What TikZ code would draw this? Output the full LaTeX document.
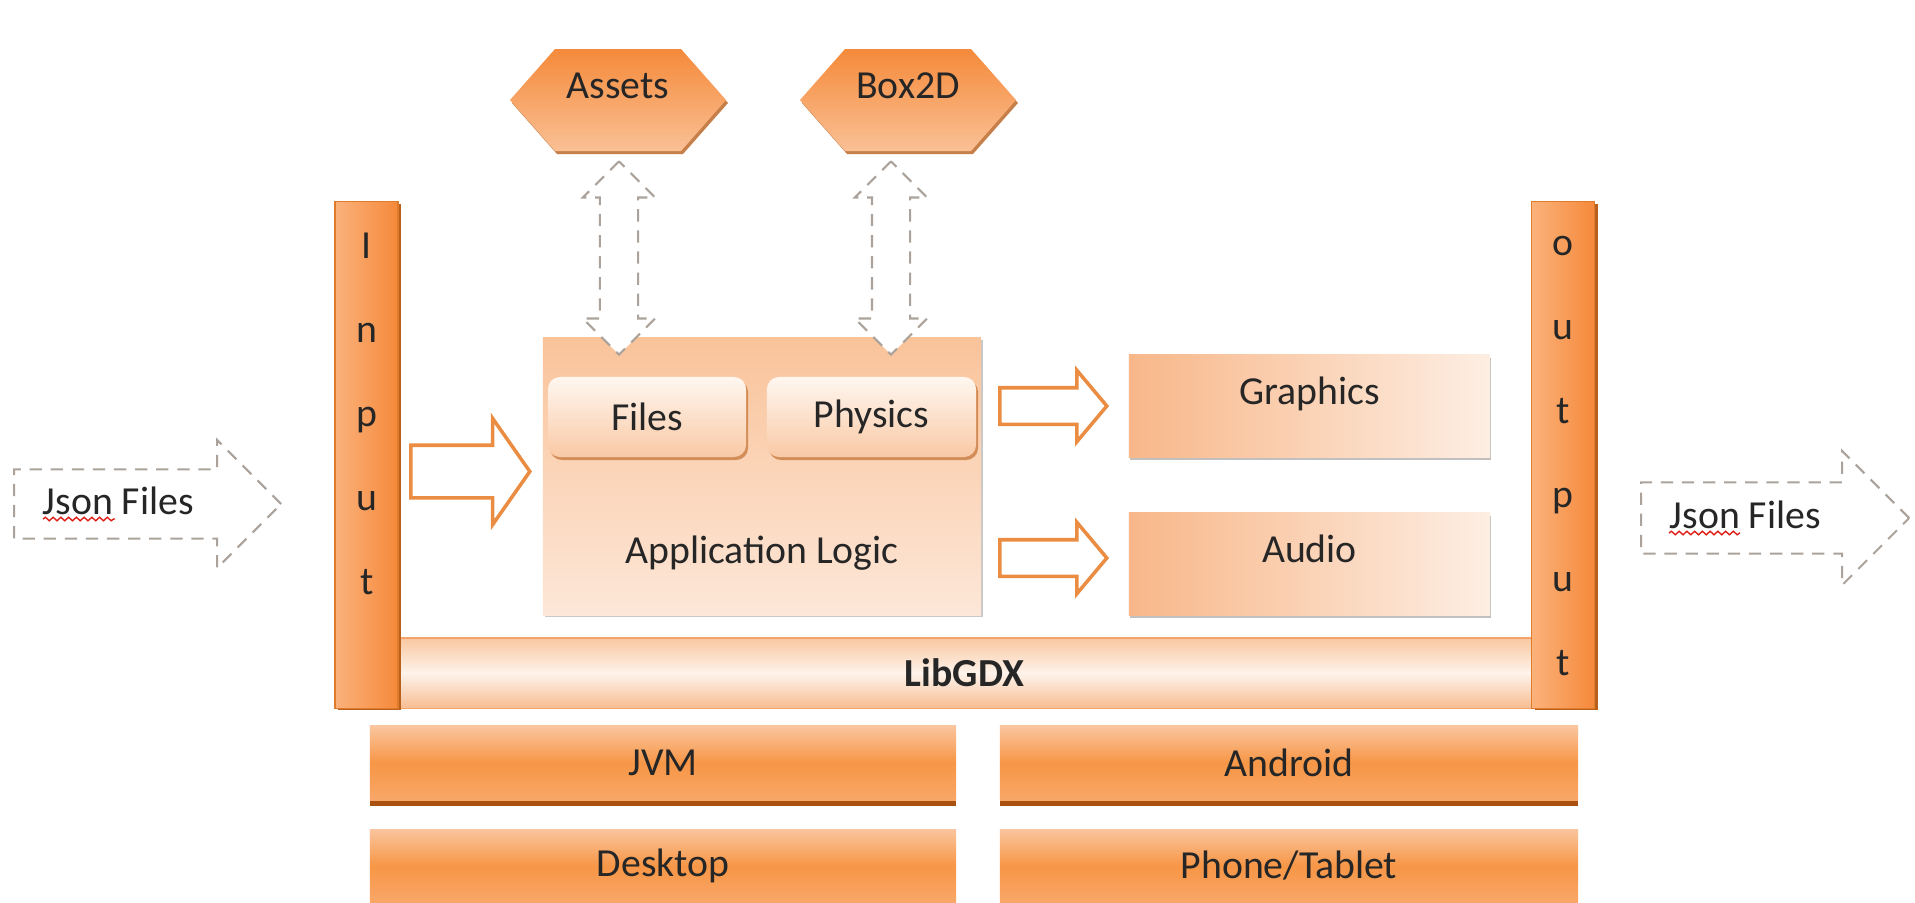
\documentclass[tikz,border=0pt]{standalone}
\usepackage{fontspec}
\setmainfont{Carlito}
\usetikzlibrary{shapes.arrows,shadows,decorations.pathmorphing}

\definecolor{hextop}{HTML}{F58A3A}
\definecolor{hexbottom}{HTML}{FAC095}
\definecolor{shadowbrown}{HTML}{B8601C}
\definecolor{barleft}{HTML}{FBB27C}
\definecolor{barright}{HTML}{F5893A}
\definecolor{baredge}{HTML}{E07B2C}
\definecolor{libtop}{HTML}{F9C7A0}
\definecolor{libmid}{HTML}{FEF3EB}
\definecolor{libbottom}{HTML}{F7BD92}
\definecolor{libedge}{HTML}{F3A46C}
\definecolor{apptop}{HTML}{F9C39A}
\definecolor{appbottom}{HTML}{FDE7D8}
\definecolor{filestop}{HTML}{FFF7F0}
\definecolor{filesbottom}{HTML}{F9C9A5}
\definecolor{outleft}{HTML}{F8B789}
\definecolor{outright}{HTML}{FDEEE3}
\definecolor{basetop}{HTML}{FAC59E}
\definecolor{basemid}{HTML}{F79646}
\definecolor{basebottom}{HTML}{F8A769}
\definecolor{baseshadow}{HTML}{A9520F}
\definecolor{arrowline}{HTML}{EA8C42}
\definecolor{dashgray}{HTML}{ABA39B}
\definecolor{spellred}{HTML}{E0201A}

\begin{document}
\begin{tikzpicture}[x=0.01cm, y=-0.01cm,
    every node/.style={font=\fontsize{11.3}{13.5}\selectfont, text=black!85, inner sep=0pt},
    raised/.style={text height=0.2cm, text depth=0.24cm},
    hexfill/.style={top color=hextop, bottom color=hexbottom,
        drop shadow={shadow xshift=0.02cm, shadow yshift=-0.03cm, fill=shadowbrown, opacity=0.8}},
    dasharrow/.style={double arrow, draw=dashgray, dash pattern=on 3.5pt off 2.5pt, line width=0.6pt,
        fill=white, double arrow head extend=0.17cm, double arrow tip angle=90, inner ysep=0.18cm,
        inner xsep=0, minimum height=1.93cm, rotate=90},
    sidebar/.style={rectangle, minimum width=0.63cm, minimum height=5.06cm, left color=barleft,
        right color=barright, draw=baredge, line width=0.3pt,
        drop shadow={shadow xshift=0.03cm, shadow yshift=-0.02cm, fill=shadowbrown, opacity=1}},
    libbar/.style={rectangle, minimum width=11.33cm, minimum height=0.70cm, top color=libtop,
        bottom color=libbottom, middle color=libmid, draw=libedge, line width=0.3pt},
    appbox/.style={rectangle, minimum width=4.38cm, minimum height=2.77cm, top color=apptop,
        bottom color=appbottom, drop shadow={shadow xshift=0.02cm, shadow yshift=-0.02cm, fill=gray!60, opacity=0.7}},
    innerbox/.style={rectangle, rounded corners=0.12cm, minimum height=0.80cm, top color=filestop,
        bottom color=filesbottom,
        drop shadow={shadow xshift=0.02cm, shadow yshift=-0.03cm, fill=shadowbrown, opacity=0.6}},
    outbox/.style={rectangle, minimum width=3.61cm, minimum height=1.02cm, left color=outleft,
        right color=outright, raised,
        drop shadow={shadow xshift=0.01cm, shadow yshift=-0.03cm, fill=gray!70, opacity=0.7}},
    basebox/.style={rectangle, minimum height=0.74cm, top color=basetop, bottom color=basebottom,
        middle color=basemid,
        drop shadow={shadow xshift=0cm, shadow yshift=-0.06cm, fill=baseshadow, opacity=1}},
    blockarrow/.style={single arrow, draw=arrowline, fill=white, line width=1pt, inner xsep=0,
        anchor=tail},
    jsonarrow/.style={single arrow, draw=dashgray, dash pattern=on 3.5pt off 2.5pt, line width=0.6pt,
        fill=white, single arrow tip angle=90, text height=0.3cm, text depth=0.1cm, anchor=tail}
]
    \clip (0,0) rectangle (1915,902);
    \fill[white] (0,0) rectangle (1915,902);

    % outside resources
    \coordinate (assetsc) at (618,100);
    \coordinate (box2dc) at (908,100);
    \shade[hexfill] (assetsc) ++(-108,0) -- ++(45,-51) -- ++(126,0) -- ++(45,51) -- ++(-45,51) -- ++(-126,0) -- cycle;
    \shade[hexfill] (box2dc) ++(-108,0) -- ++(45,-51) -- ++(126,0) -- ++(45,51) -- ++(-45,51) -- ++(-126,0) -- cycle;
    \node[raised] (assets) at (assetsc) {Assets};
    \node[raised] (box2d) at (box2dc) {Box2D};

    % LibGDX frame
    \node[libbar] (libgdx) at (964.5,673) {\textbf{LibGDX}};
    \node[sidebar] (input) at (366.5,455) {};
    \node[sidebar] (output) at (1563,455) {};
    \node[align=center, font=\fontsize{11.3}{23.9}\selectfont] (inletters) at (367,414) {I\\n\\p\\u\\t};
    \node[align=center, font=\fontsize{11.3}{23.9}\selectfont] (outletters) at (1563,456) {o\\u\\t\\p\\u\\t};

    % application
    \node[appbox, text height=1.8cm, text depth=0.07cm] (app) at (762,476.5) {Application Logic};
    \node[innerbox, minimum width=1.98cm] (files) at (647,417) {Files};
    \node[innerbox, minimum width=2.09cm] (physics) at (871.5,417) {Physics};
    \node[dasharrow] (assetslink) at (619,258) {};
    \node[dasharrow] (box2dlink) at (891,258) {};
    \node[outbox] (graphics) at (1309.5,406) {Graphics};
    \node[outbox] (audio) at (1309.5,564) {Audio};

    % block arrows
    \node[blockarrow, minimum height=1.19cm, inner ysep=0.245cm, single arrow head extend=0.27cm,
        single arrow tip angle=110] (in2app) at (409,471.5) {};
    \node[blockarrow, minimum height=1.07cm, inner ysep=0.165cm, single arrow head extend=0.175cm,
        single arrow tip angle=100] (app2graphics) at (998,406) {};
    \node[blockarrow, minimum height=1.07cm, inner ysep=0.165cm, single arrow head extend=0.175cm,
        single arrow tip angle=100] (app2audio) at (998,558) {};

    % json files
    \node[jsonarrow, minimum height=2.67cm, inner ysep=0.135cm, single arrow head extend=0.295cm] (jsonin) at (13,504) {Json Files\hspace*{0.24cm}};
    \node[jsonarrow, minimum height=2.68cm, inner ysep=0.145cm, single arrow head extend=0.315cm] (jsonout) at (1640,518) {Json Files\hspace*{0.24cm}};
    \draw[spellred, line width=0.4pt, decorate, decoration={snake, amplitude=0.5pt, segment length=2.2pt}] (43,519) -- (115,519);
    \draw[spellred, line width=0.4pt, decorate, decoration={snake, amplitude=0.5pt, segment length=2.2pt}] (1669,533) -- (1740,533);

    % platforms
    \node[basebox, minimum width=5.86cm] (jvm) at (663,763) {JVM};
    \node[basebox, minimum width=5.78cm] (android) at (1289,763) {Android};
    \node[basebox, minimum width=5.86cm] (desktop) at (663,866) {Desktop};
    \node[basebox, minimum width=5.78cm] (phone) at (1289,866) {Phone/Tablet};
\end{tikzpicture}
\end{document}
